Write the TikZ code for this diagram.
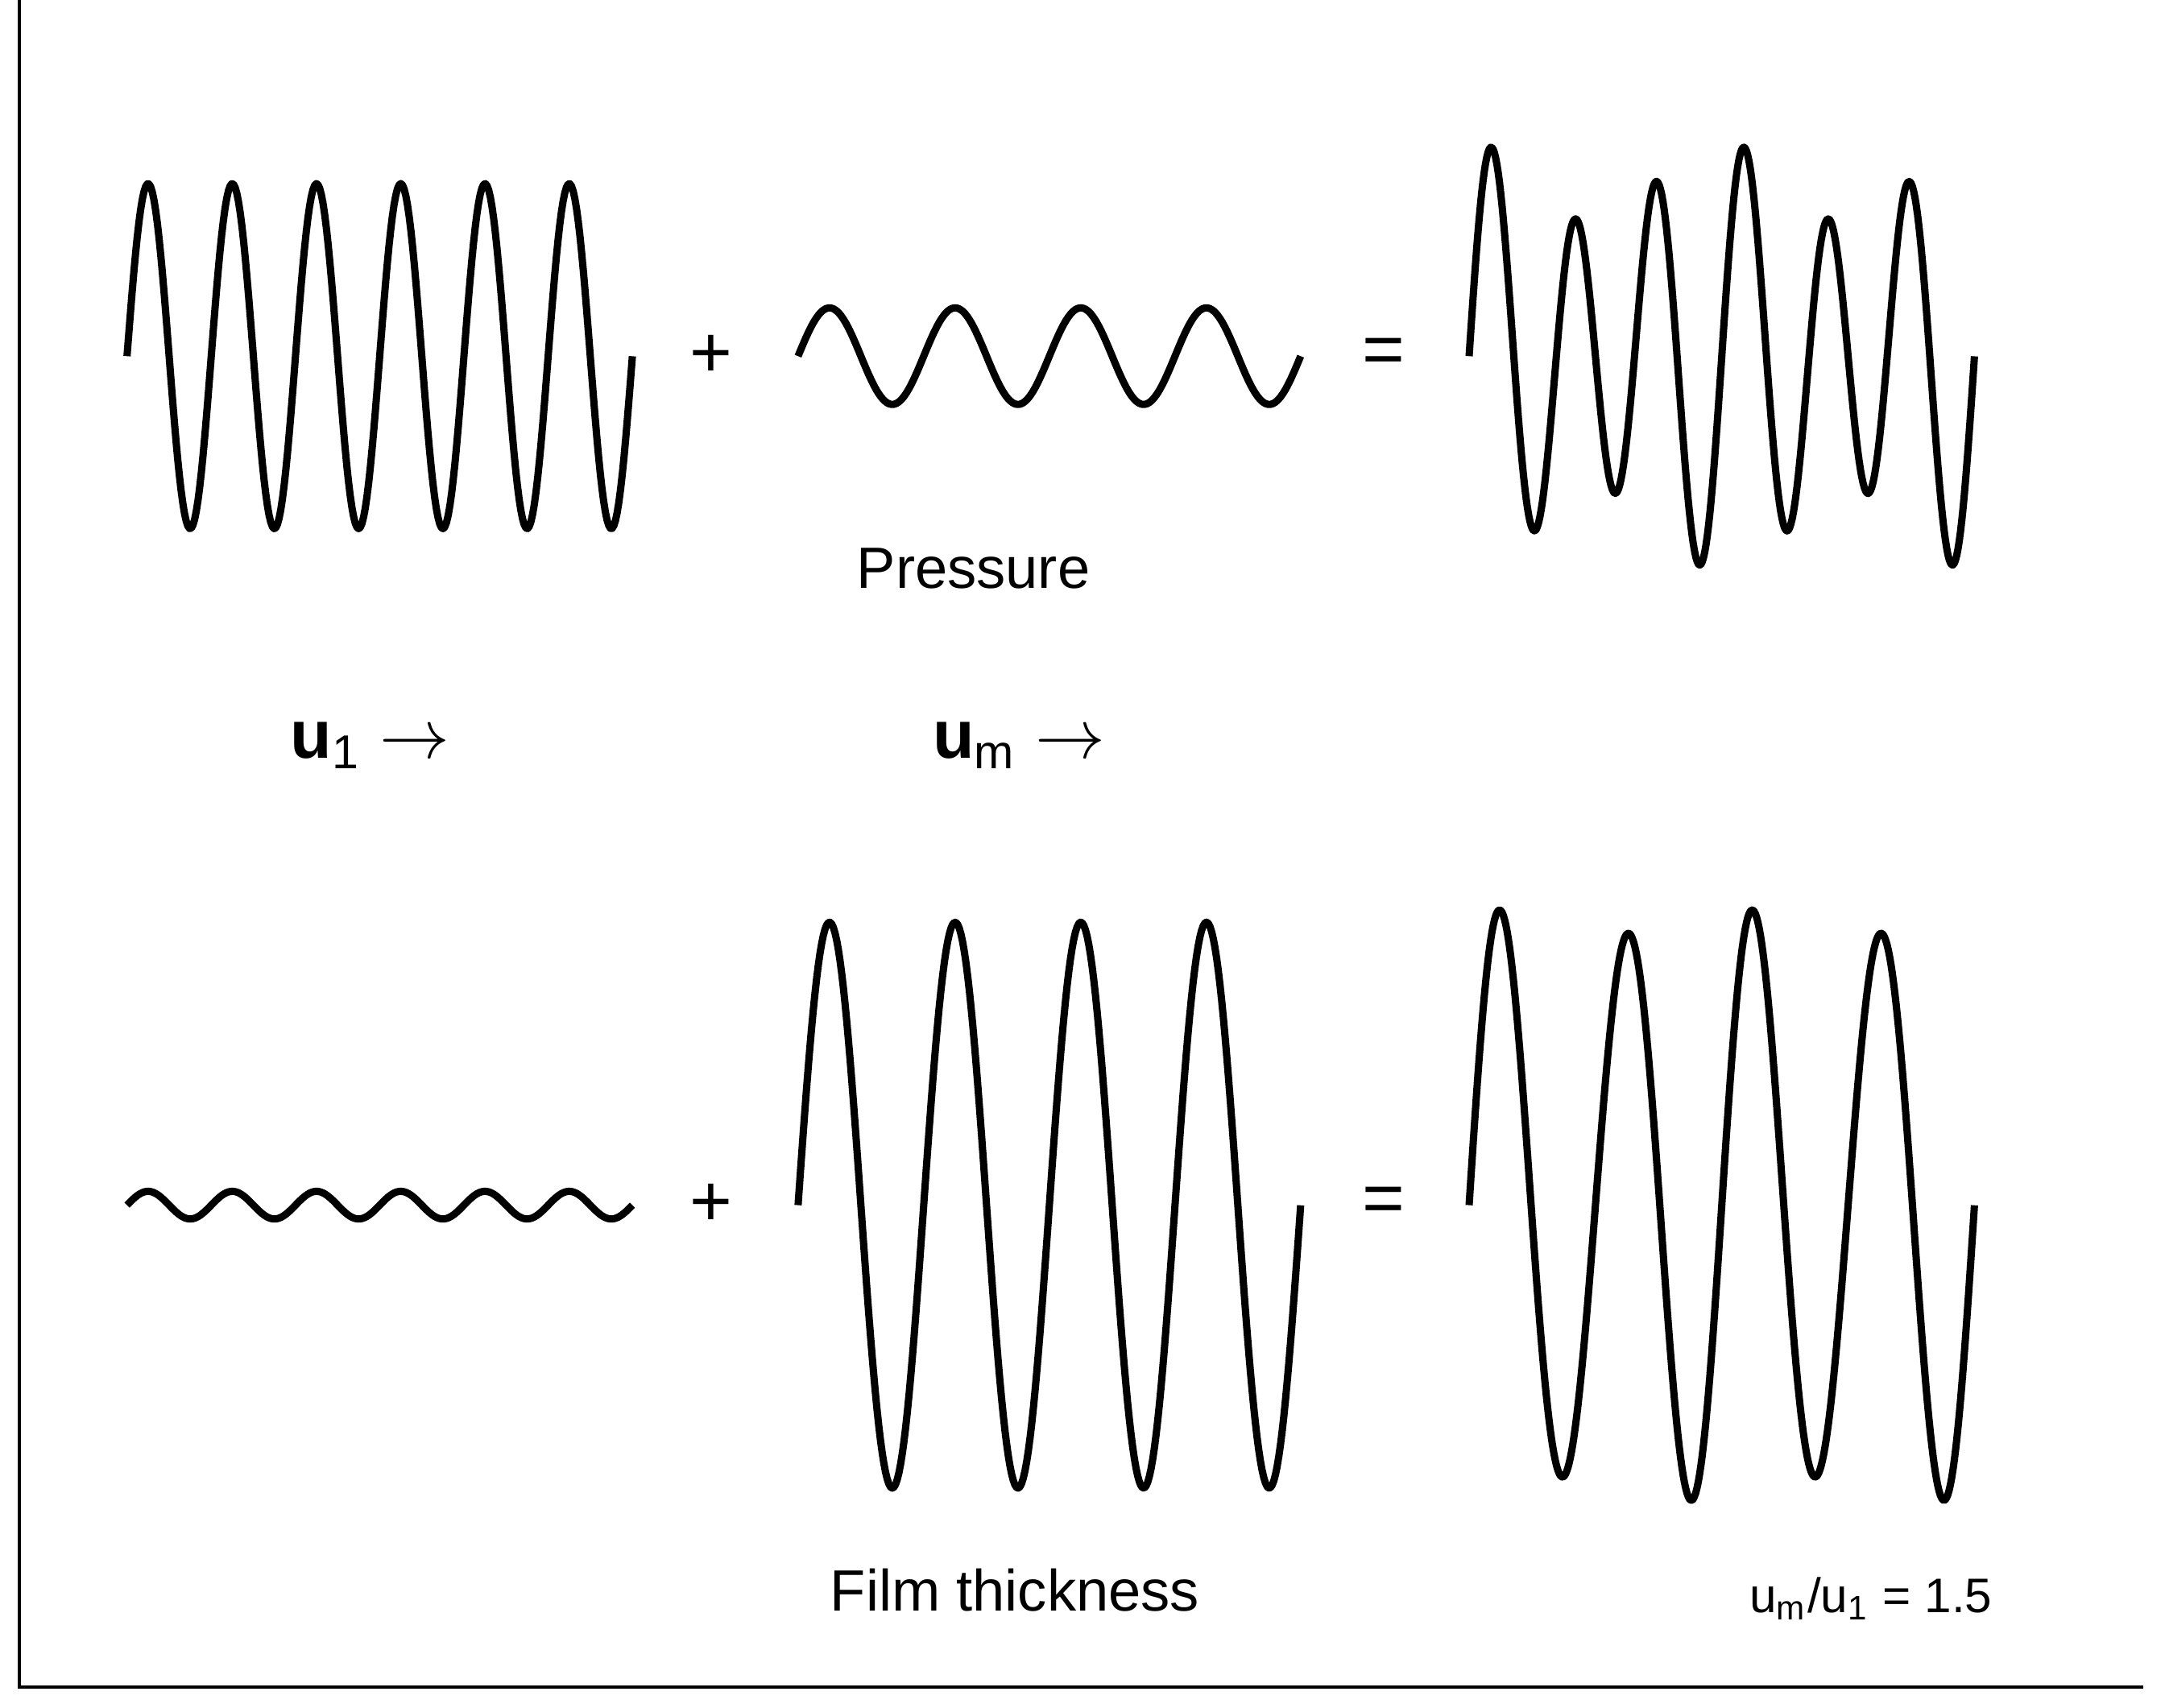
\documentclass[tikz,border=0pt]{standalone}
\usepackage{fontspec}
\setmainfont{Liberation Sans}
\begin{document}
\begin{tikzpicture}[x=0.01cm,y=-0.01cm,
  wave/.style={line width=1.5pt,line join=round},
  lbl/.style={font=\fontsize{12}{14}\selectfont},
  op/.style={font=\fontsize{15}{17}\selectfont}]
\useasboundingbox (0,0) rectangle (1568,1237);
\draw[line width=0.6pt] (14,0) -- (14,1222) -- (1552,1222);
% top row
\draw[wave] plot[domain=0:366,samples=300] ({92+\x},{258-125*sin(\x*5.9016)});
\draw[wave] plot[domain=0:364,samples=200] ({578+\x},{258-35*sin(\x*3.956)});
\draw[wave] plot[domain=0:366,samples=400] ({1064+\x},{258-125*sin(\x*5.9016)-30*sin(\x*3.9344)});
% bottom row
\draw[wave] plot[domain=0:366,samples=300] ({92+\x},{873-10*sin(\x*5.9016)});
\draw[wave] plot[domain=0:364,samples=300] ({578+\x},{873-205*sin(\x*3.956)});
\draw[wave] plot[domain=0:366,samples=400] ({1064+\x},{873-205*sin(\x*3.9344)-12*sin(\x*5.9016)});
\node[op] (p1) at (515,258) {+};
\node[op] (e1) at (1002,258) {=};
\node[op] (p2) at (515,873) {+};
\node[op] (e2) at (1002,873) {=};
\node[lbl] (pr) at (705,412) {Pressure};
\node[font=\fontsize{14}{16}\selectfont] (u1) at (268,540) {$\mathbf{u}$\textsubscript{1} $\rightarrow$};
\node[font=\fontsize{14}{16}\selectfont] (um) at (738,540) {$\mathbf{u}$\textsubscript{m} $\rightarrow$};
\node[lbl] (ft) at (735,1152) {Film thickness};
\node[font=\fontsize{10}{12}\selectfont] (ratio) at (1355,1158) {u\textsubscript{m}/u\textsubscript{1} = 1.5};
\end{tikzpicture}
\end{document}
